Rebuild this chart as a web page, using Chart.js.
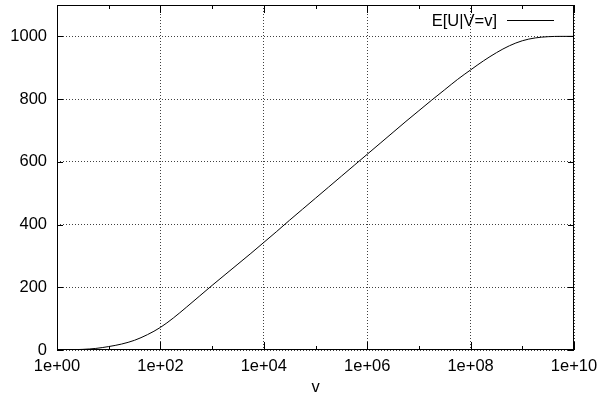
<!DOCTYPE html>
<html>
<head>
<meta charset="utf-8">
<script src="https://cdn.jsdelivr.net/npm/chart.js@4/dist/chart.umd.min.js"></script>
<style>
html,body{margin:0;padding:0;background:#fff;}
#wrap{width:606px;height:398px;position:relative;}
</style>
</head>
<body>
<div id="wrap"><canvas id="c" width="606" height="398"></canvas></div>
<script>
// log10(v) sample positions
const logV = [0,0.25,0.5,0.75,1,1.25,1.5,1.75,2,2.25,2.5,2.75,3,3.25,3.5,3.75,4,4.25,4.5,4.75,5,5.25,5.5,5.75,6,6.25,6.5,6.75,7,7.25,7.5,7.75,8,8.25,8.5,8.75,9,9.25,9.5,9.75,10];
// E[U|V=v] values
const expectedU = [0,0.5,2,5,11,19,31,49,72,102,136,171,206,240,274,308,343,378,414,449,484,519,554,589,624,659,694,729,763,797,830,863,893,922,948,970,986,995,999,1000,1000];
const xTickExponents = [0,2,4,6,8,10];
const xMinorExponents = [1,3,5,7,9];
const yTickValues = [0,200,400,600,800,1000];
const seriesLabel = 'E[U|V=v]';
const xTitle = 'v';

const FONT = '"Liberation Sans", Arial, Helvetica, sans-serif';
const FS = 16.5;
const points = logV.map((e,i)=>({x:Math.pow(10,e), y:expectedU[i]}));

const framePlugin = {
  id:'frame',
  afterDraw(chart){
    const {ctx, chartArea:a, scales} = chart;
    const xs = scales.x, ys = scales.y;
    ctx.save();
    ctx.strokeStyle = '#000';
    ctx.lineWidth = 1;
    ctx.strokeRect(Math.round(a.left)+0.5, Math.round(a.top)+0.5, Math.round(a.right-a.left)-1, Math.round(a.bottom-a.top)-1);
    ctx.beginPath();
    xTickExponents.forEach(e=>{
      const px = Math.round(xs.getPixelForValue(Math.pow(10,e)))+0.5;
      ctx.moveTo(px,a.bottom); ctx.lineTo(px,a.bottom-8);
      ctx.moveTo(px,a.top); ctx.lineTo(px,a.top+8);
    });
    xMinorExponents.forEach(e=>{
      const px = Math.round(xs.getPixelForValue(Math.pow(10,e)))+0.5;
      ctx.moveTo(px,a.bottom); ctx.lineTo(px,a.bottom-4);
      ctx.moveTo(px,a.top); ctx.lineTo(px,a.top+4);
    });
    yTickValues.forEach(v=>{
      const py = Math.round(ys.getPixelForValue(v))+0.5;
      ctx.moveTo(a.left,py); ctx.lineTo(a.left+6,py);
      ctx.moveTo(a.right,py); ctx.lineTo(a.right-6,py);
    });
    ctx.stroke();
    // legend (gnuplot style: text then line sample)
    ctx.font = FS + 'px ' + FONT;
    ctx.fillStyle = '#000';
    ctx.textAlign = 'right';
    ctx.textBaseline = 'middle';
    ctx.fillText(seriesLabel, 497, 21);
    ctx.beginPath();
    ctx.moveTo(507, 20.5); ctx.lineTo(554, 20.5);
    ctx.stroke();
    ctx.restore();
  }
};

new Chart(document.getElementById('c'), {
  type:'line',
  data:{datasets:[{label:seriesLabel, data:points, borderColor:'#000', borderWidth:1, pointRadius:0, fill:false, cubicInterpolationMode:'monotone'}]},
  options:{
    responsive:false, animation:false, devicePixelRatio:1,
    layout:{padding:{left:0,right:32,top:5,bottom:0}},
    plugins:{legend:{display:false}, tooltip:{enabled:false}},
    scales:{
      x:{
        type:'logarithmic', min:1, max:1e10,
        afterBuildTicks(s){ s.ticks = xTickExponents.map(e=>({value:Math.pow(10,e)})); },
        afterFit(s){ s.height = 48; s.paddingLeft = 0; s.paddingRight = 0; },
        ticks:{color:'#000', font:{family:FONT,size:FS}, padding:7, maxRotation:0, autoSkip:false,
          callback(v){ const e=Math.round(Math.log10(v)); return '1e+'+String(e).padStart(2,'0'); }},
        grid:{color:'rgba(0,0,0,0.75)', lineWidth:1, drawTicks:false},
        border:{display:false, dash:[1,2]},
        title:{display:true, text:xTitle, color:'#000', font:{family:FONT,size:FS}, padding:{top:1,bottom:1}}
      },
      y:{
        min:0, max:1100,
        afterBuildTicks(s){ s.ticks = yTickValues.map(v=>({value:v})); },
        afterFit(s){ s.width = 57; s.paddingTop = 0; s.paddingBottom = 0; },
        ticks:{color:'#000', font:{family:FONT,size:FS}, padding:10, callback(v){ return String(v); }},
        grid:{color:'rgba(0,0,0,0.75)', lineWidth:1, drawTicks:false},
        border:{display:false, dash:[1,2]}
      }
    }
  },
  plugins:[framePlugin]
});
</script>
</body>
</html>
